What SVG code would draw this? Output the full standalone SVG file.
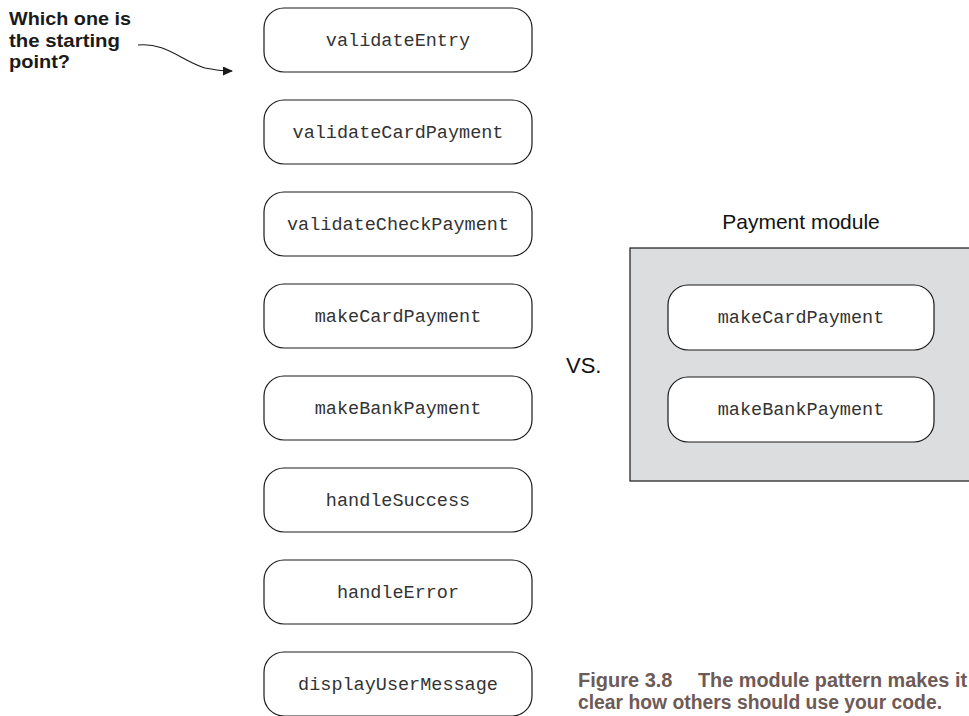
<svg xmlns="http://www.w3.org/2000/svg" width="969" height="716" viewBox="0 0 969 716">
<style>
.box{fill:#fff;stroke:#1a1a1a;stroke-width:1.2}
.mono{font-family:"Liberation Mono","Courier New",monospace;font-size:18.5px;fill:#333;text-anchor:middle}
.sans{font-family:"Liberation Sans",Arial,sans-serif;fill:#111}
.q{font-family:"Liberation Sans",Arial,sans-serif;font-weight:bold;font-size:19px;fill:#1a1a1a}
.cap{font-family:"Liberation Sans",Arial,sans-serif;font-weight:bold;font-size:20px;fill:#6e5a56}
</style>
<defs>
<marker id="ah" markerWidth="10" markerHeight="9" refX="9" refY="4.5" orient="auto" markerUnits="userSpaceOnUse">
<path d="M0,0 L10,4.5 L0,9 Z" fill="#1a1a1a"/>
</marker>
</defs>
<g id="question">
<text class="q" x="9" y="25" textLength="122" lengthAdjust="spacingAndGlyphs">Which one is</text>
<text class="q" x="9" y="47" textLength="111" lengthAdjust="spacingAndGlyphs">the starting</text>
<text class="q" x="9" y="68" textLength="61" lengthAdjust="spacingAndGlyphs">point?</text>
</g>
<g id="connectors">
<path d="M138,45 C165,42 182,61 205,68 C214,70 220,71 232,71" fill="none" stroke="#1a1a1a" stroke-width="1.1" marker-end="url(#ah)"/>
</g>
<g id="n1"><rect class="box" x="264" y="8" width="268" height="64" rx="20"/><text class="mono" x="398" y="46">validateEntry</text></g>
<g id="n2"><rect class="box" x="264" y="100" width="268" height="64" rx="20"/><text class="mono" x="398" y="138">validateCardPayment</text></g>
<g id="n3"><rect class="box" x="264" y="192" width="268" height="64" rx="20"/><text class="mono" x="398" y="230">validateCheckPayment</text></g>
<g id="n4"><rect class="box" x="264" y="284" width="268" height="64" rx="20"/><text class="mono" x="398" y="322">makeCardPayment</text></g>
<g id="n5"><rect class="box" x="264" y="376" width="268" height="64" rx="20"/><text class="mono" x="398" y="414">makeBankPayment</text></g>
<g id="n6"><rect class="box" x="264" y="468" width="268" height="64" rx="20"/><text class="mono" x="398" y="506">handleSuccess</text></g>
<g id="n7"><rect class="box" x="264" y="560" width="268" height="64" rx="20"/><text class="mono" x="398" y="598">handleError</text></g>
<g id="n8"><rect class="box" x="264" y="652" width="268" height="64" rx="20"/><text class="mono" x="398" y="690">displayUserMessage</text></g>
<g id="vs"><text class="sans" x="566" y="373" font-size="22">VS.</text></g>
<g id="module">
<text class="sans" x="801" y="229" font-size="21" text-anchor="middle">Payment module</text>
<rect x="630" y="248" width="345" height="233" fill="#dcdddf" stroke="#1a1a1a" stroke-width="1.2"/>
</g>
<g id="m1"><rect class="box" x="668" y="285" width="266" height="65" rx="20"/><text class="mono" x="801" y="323">makeCardPayment</text></g>
<g id="m2"><rect class="box" x="668" y="377" width="266" height="65" rx="20"/><text class="mono" x="801" y="415">makeBankPayment</text></g>
<g id="caption">
<text class="cap" x="578" y="687">Figure 3.8</text>
<text class="cap" x="698" y="687" textLength="269" lengthAdjust="spacingAndGlyphs">The module pattern makes it</text>
<text class="cap" x="578" y="709" textLength="364" lengthAdjust="spacingAndGlyphs">clear how others should use your code.</text>
</g>
</svg>
